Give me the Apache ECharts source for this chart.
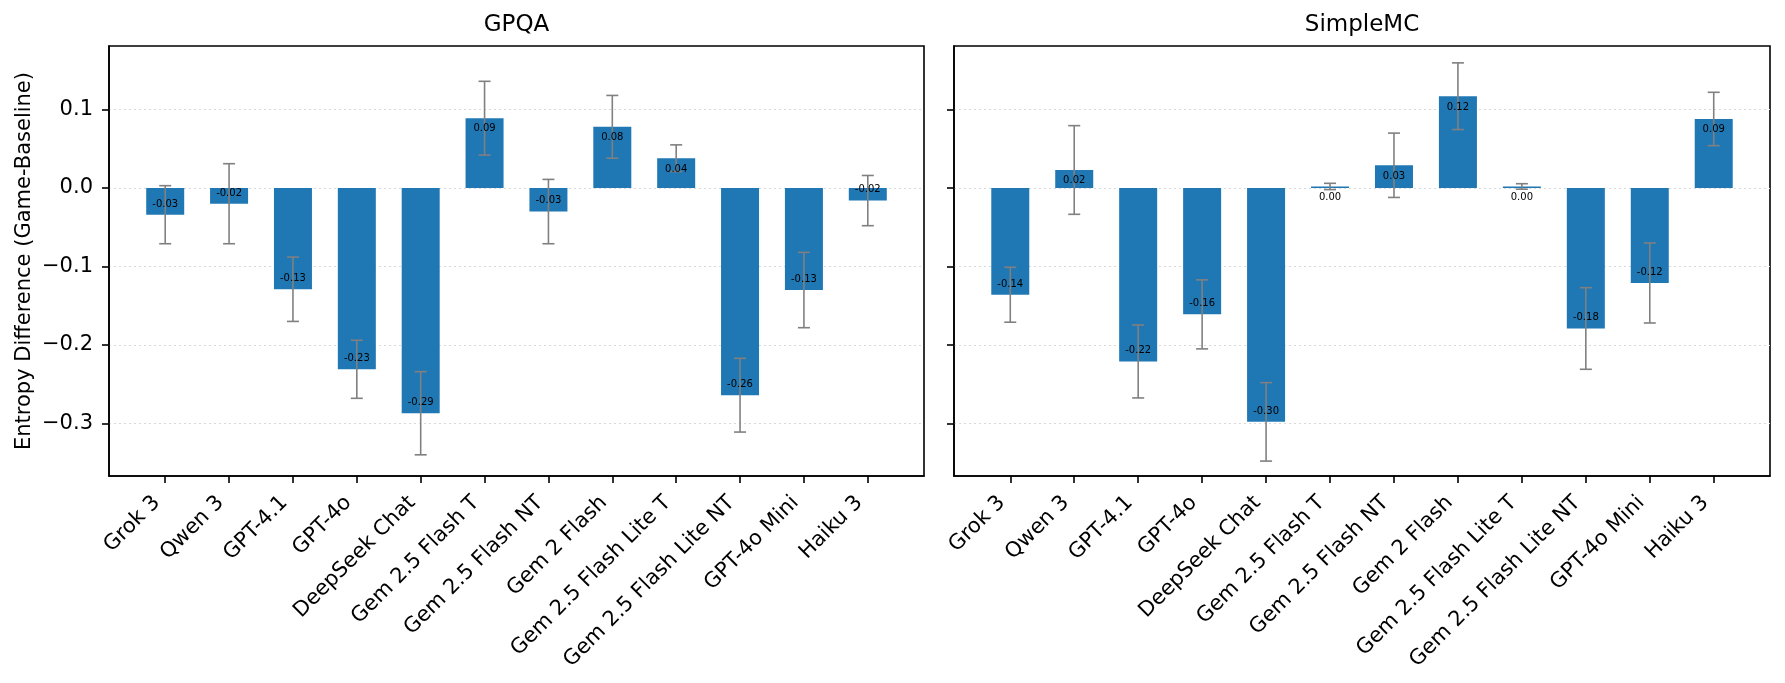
<!DOCTYPE html>
<html>
<head>
<meta charset="utf-8">
<script src="https://cdn.jsdelivr.net/npm/echarts@6/dist/echarts.min.js"></script>
<style>
html,body{margin:0;padding:0;background:#fff;}
#chart{width:1785px;height:683px;}
</style>
</head>
<body>
<div id="chart"></div>
<script>
// ---- data ----
const categories = ['Grok 3','Qwen 3','GPT-4.1','GPT-4o','DeepSeek Chat','Gem 2.5 Flash T','Gem 2.5 Flash NT','Gem 2 Flash','Gem 2.5 Flash Lite T','Gem 2.5 Flash Lite NT','GPT-4o Mini','Haiku 3'];
const panelTitles = ['GPQA', 'SimpleMC'];
const gpqaValues = [-0.034, -0.020, -0.129, -0.231, -0.287, 0.089, -0.030, 0.078, 0.038, -0.264, -0.130, -0.016];
const gpqaErrors = [0.037, 0.051, 0.041, 0.037, 0.053, 0.047, 0.041, 0.040, 0.017, 0.047, 0.048, 0.032];
const simpleValues = [-0.136, 0.023, -0.221, -0.161, -0.298, 0.002, 0.029, 0.117, 0.002, -0.179, -0.121, 0.088];
const simpleErrors = [0.035, 0.0565, 0.0465, 0.044, 0.050, 0.004, 0.041, 0.0425, 0.0035, 0.052, 0.051, 0.034];
const yTickValues = [-0.3, -0.2, -0.1, 0.0, 0.1];
const yAxisTitle = 'Entropy Difference (Game-Baseline)';

// ---- chart ----
const FONT = 'DejaVu Sans';
const BAR = '#1f77b4';
const ERR = '#808080';
const chart = echarts.init(document.getElementById('chart'), null, {renderer: 'canvas'});

const grids = [
  {left: 109, top: 46, width: 815, height: 430},
  {left: 954, top: 46, width: 816, height: 430}
];

function fmtY(v) {
  if (Math.abs(v) < 1e-9) return '0.0';
  return (v < 0 ? '\u2212' : '') + Math.abs(v).toFixed(1);
}

const xAxes = grids.map((g, k) => ({
  type: 'value', gridIndex: k, min: -0.88, max: 11.88,
  axisLine: {show: true, onZero: false, lineStyle: {color: '#000', width: 1.6}},
  axisTick: {show: true, length: 7, customValues: categories.map((c, i) => i), lineStyle: {color: '#000', width: 1.6}},
  axisLabel: {
    show: true, customValues: categories.map((c, i) => i), rotate: 45, margin: 15,
    padding: [0, 12, 0, 0],
    fontFamily: FONT, fontSize: 21, color: '#000',
    formatter: v => categories[Math.round(v)] || ''
  },
  splitLine: {show: false}
}));

const yAxes = grids.map((g, k) => ({
  type: 'value', gridIndex: k, min: -0.367, max: 0.181,
  name: k === 0 ? yAxisTitle : '',
  nameLocation: 'middle', nameRotate: 90, nameGap: 74,
  nameTextStyle: {fontFamily: FONT, fontSize: 21, color: '#000'},
  axisLine: {show: true, onZero: false, lineStyle: {color: '#000', width: 1.6}},
  axisTick: {show: true, length: 7, customValues: yTickValues, lineStyle: {color: '#000', width: 1.6}},
  axisLabel: {
    show: k === 0, customValues: yTickValues, margin: 16,
    fontFamily: FONT, fontSize: 21, color: '#000', formatter: fmtY
  },
  splitLine: {show: true, lineStyle: {color: '#d9d9d9', type: [2, 3], width: 1.2}}
}));

function errRender(params, api) {
  const x = api.value(0), v = api.value(1), e = api.value(2);
  const top = api.coord([x, v + e]);
  const bot = api.coord([x, v - e]);
  const cw = 6;
  const st = {stroke: ERR, lineWidth: 1.6};
  return {type: 'group', children: [
    {type: 'line', shape: {x1: top[0], y1: top[1], x2: bot[0], y2: bot[1]}, style: st},
    {type: 'line', shape: {x1: top[0] - cw, y1: top[1], x2: top[0] + cw, y2: top[1]}, style: st},
    {type: 'line', shape: {x1: bot[0] - cw, y1: bot[1], x2: bot[0] + cw, y2: bot[1]}, style: st}
  ]};
}

function labelRender(params, api) {
  const x = api.value(0), v = api.value(1);
  const p = api.coord([x, v]);
  const off = v >= 0 ? 10.7 : -10.7;
  return {type: 'text', x: p[0], y: p[1] + off, style: {
    text: v.toFixed(2), textAlign: 'center', textVerticalAlign: 'middle',
    font: '10px "DejaVu Sans"', fill: '#000'
  }};
}

const panels = [[gpqaValues, gpqaErrors], [simpleValues, simpleErrors]];
const series = [];
panels.forEach(([vals, errs], k) => {
  series.push({
    type: 'bar', xAxisIndex: k, yAxisIndex: k, barWidth: 38, z: 2,
    itemStyle: {color: BAR},
    data: vals.map((v, i) => [i, v]),
    silent: true
  });
  series.push({
    type: 'custom', xAxisIndex: k, yAxisIndex: k, z: 3,
    renderItem: errRender, encode: {x: 0, y: 1},
    data: vals.map((v, i) => [i, v, errs[i]]),
    silent: true
  });
  series.push({
    type: 'custom', xAxisIndex: k, yAxisIndex: k, z: 4,
    renderItem: labelRender, encode: {x: 0, y: 1},
    data: vals.map((v, i) => [i, v]),
    silent: true
  });
});

const option = {
  animation: false,
  backgroundColor: '#fff',
  grid: grids.map(g => Object.assign({show: true, borderColor: '#000', borderWidth: 1.6, containLabel: false}, g)),
  xAxis: xAxes,
  yAxis: yAxes,
  series: series,
  graphic: grids.map((g, k) => ({
    type: 'text', x: g.left + g.width / 2, y: 25,
    style: {text: panelTitles[k], textAlign: 'center', textVerticalAlign: 'middle',
      font: '23px "DejaVu Sans"', fill: '#000'}
  }))
};
chart.setOption(option);
</script>
</body>
</html>
